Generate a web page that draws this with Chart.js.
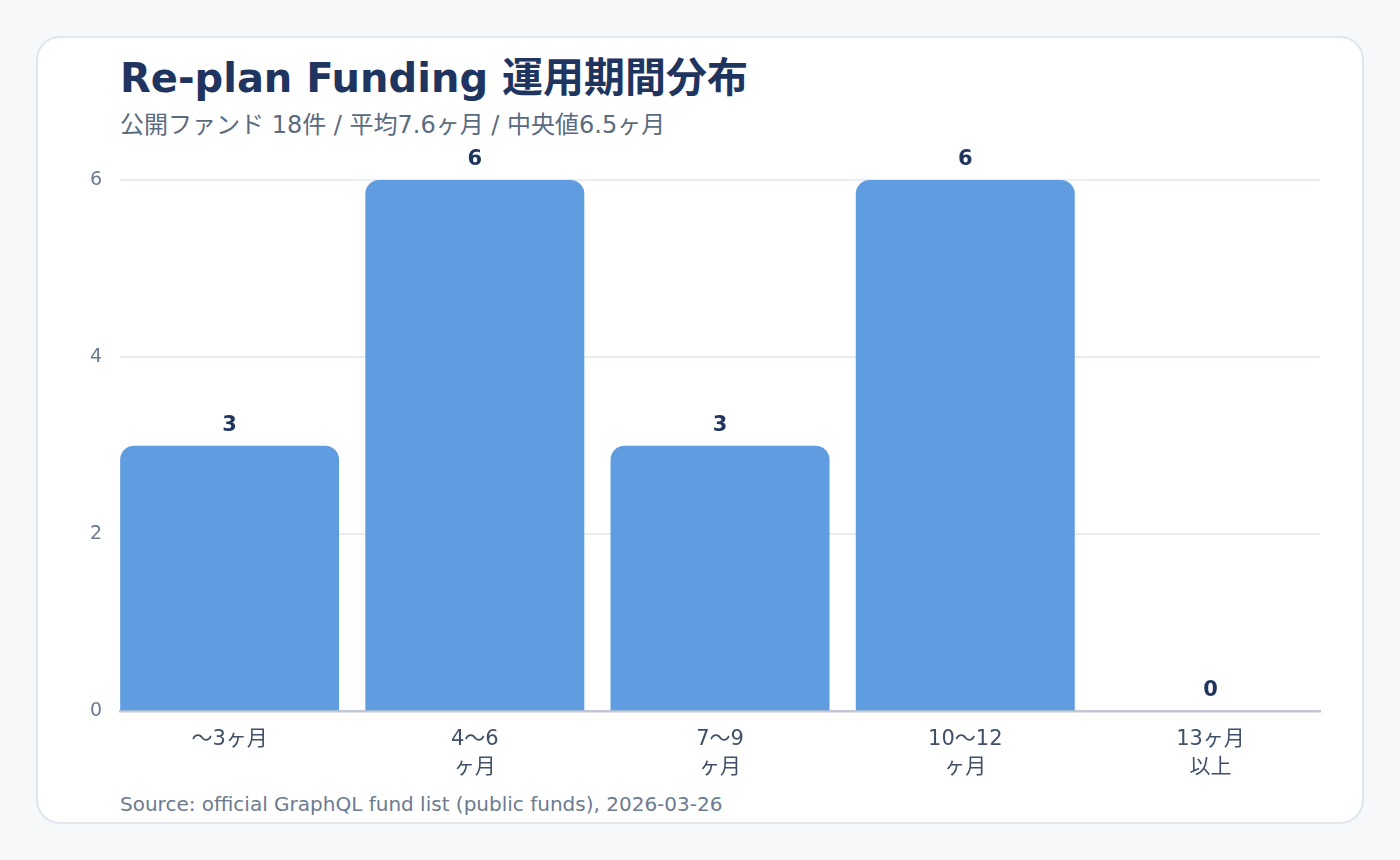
<!DOCTYPE html>
<html lang="ja">
<head>
<meta charset="utf-8">
<title>Re-plan Funding 運用期間分布</title>
<script src="https://cdn.jsdelivr.net/npm/chart.js@4.4.1/dist/chart.umd.min.js"></script>
<style>
  html, body { margin: 0; padding: 0; }
  body {
    width: 1400px; height: 860px; background: #f6f8fa; position: relative;
    font-family: "DejaVu Sans", "Noto Sans CJK JP", sans-serif;
  }
  .card {
    position: absolute; left: 36px; top: 36px; width: 1328px; height: 788px;
    box-sizing: border-box; background: #fff; border: 2px solid #dfe6ee; border-radius: 24px;
  }
  h1 {
    position: absolute; left: 120px; top: 50px; margin: 0; white-space: nowrap;
    font-size: 40px; font-weight: 700; color: #1f3560; line-height: 1.2;
  }
  h1 .jp { font-family: "Noto Sans CJK JP", sans-serif; font-size: 41px; }
  .sub {
    position: absolute; left: 120px; top: 111px; margin: 0; white-space: nowrap;
    font-size: 24px; color: #5a6b80; line-height: 1.2;
  }
  .src {
    position: absolute; left: 120px; top: 792px; margin: 0; white-space: nowrap;
    font-size: 20px; color: #6b7b90; line-height: 1.2;
  }
  .wrap { position: absolute; left: 72px; top: 140px; width: 1268px; height: 648px; }
</style>
</head>
<body>
<div class="card"></div>
<h1>Re-plan Funding <span class="jp">運用期間分布</span></h1>
<p class="sub">公開ファンド 18件 / 平均7.6ヶ月 / 中央値6.5ヶ月</p>
<div class="wrap"><canvas id="chart"></canvas></div>
<p class="src">Source: official GraphQL fund list (public funds), 2026-03-26</p>
<script>
// 運用期間の区分
const categories = [
  ['〜3ヶ月'],
  ['4〜6', 'ヶ月'],
  ['7〜9', 'ヶ月'],
  ['10〜12', 'ヶ月'],
  ['13ヶ月', '以上']
];
// ファンド件数
const fundCounts = [3, 6, 3, 6, 0];
const yTicks = [0, 2, 4, 6];

const FONT = '"DejaVu Sans", "Noto Sans CJK JP", sans-serif';
// 棒の幅 (1区間に対する割合)。両端の棒が軸の端にそろう
const BAR_FRAC = 0.893;

// 棒の上に件数を表示
const valueLabels = {
  id: 'valueLabels',
  afterDatasetsDraw(chart) {
    const ctx = chart.ctx;
    const meta = chart.getDatasetMeta(0);
    ctx.save();
    ctx.font = '700 21px ' + FONT;
    ctx.fillStyle = '#1f3560';
    ctx.textAlign = 'center';
    ctx.textBaseline = 'bottom';
    meta.data.forEach((bar, i) => {
      ctx.fillText(String(fundCounts[i]), bar.x, bar.y - 10);
    });
    ctx.restore();
  }
};

const ctx = document.getElementById('chart').getContext('2d');
new Chart(ctx, {
  type: 'bar',
  data: {
    datasets: [{
      data: fundCounts.map((v, i) => ({ x: i, y: v })),
      backgroundColor: 'rgba(74, 144, 220, 0.88)',
      borderRadius: 14,
      borderSkipped: 'bottom',
      barPercentage: 1,
      categoryPercentage: BAR_FRAC
    }]
  },
  options: {
    responsive: true,
    maintainAspectRatio: false,
    animation: false,
    layout: { padding: { top: 40, right: 20, left: 0, bottom: 0 } },
    plugins: { legend: { display: false }, tooltip: { enabled: false } },
    scales: {
      x: {
        type: 'linear',
        offset: false,
        z: 1,
        min: -BAR_FRAC / 2,
        max: categories.length - 1 + BAR_FRAC / 2,
        afterBuildTicks(axis) { axis.ticks = categories.map((c, i) => ({ value: i })); },
        grid: { display: false },
        border: { color: '#bfc8d4', width: 2.5 },
        ticks: {
          color: '#3f5068', padding: 6, maxRotation: 0, autoSkip: false,
          callback: (v) => categories[v],
          font: { family: FONT, size: 21, lineHeight: 1.35 }
        }
      },
      y: {
        min: 0,
        max: 6,
        afterBuildTicks(axis) { axis.ticks = yTicks.map(v => ({ value: v })); },
        grid: { color: '#e8edf2', lineWidth: 2, drawTicks: false },
        border: { display: false },
        ticks: { color: '#6b7b90', font: { family: FONT, size: 19 }, padding: 18 }
      }
    }
  },
  plugins: [valueLabels]
});
</script>
</body>
</html>
